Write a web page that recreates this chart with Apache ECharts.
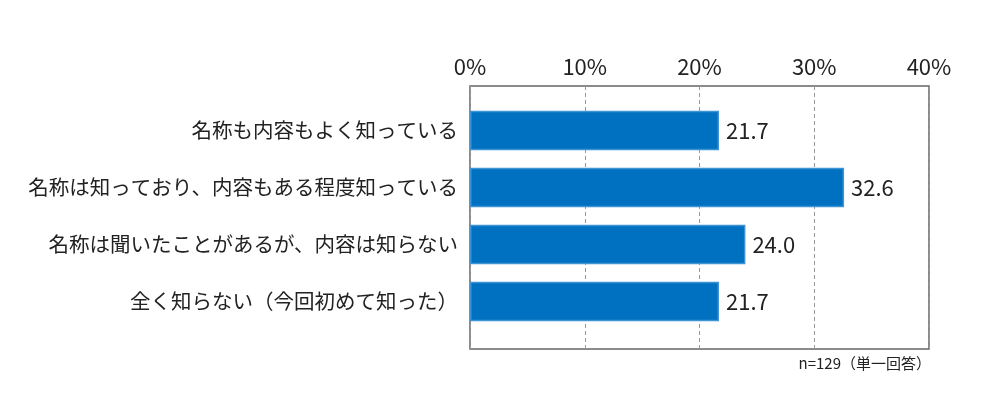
<!DOCTYPE html>
<html>
<head>
<meta charset="utf-8">
<script src="https://cdn.jsdelivr.net/npm/echarts@6/dist/echarts.min.js"></script>
<style>
html,body{margin:0;padding:0;background:#fff;}
#c{width:1000px;height:406px;}
</style>
</head>
<body>
<div id="c"></div>
<script>
const categories = [
  '名称も内容もよく知っている',
  '名称は知っており、内容もある程度知っている',
  '名称は聞いたことがあるが、内容は知らない',
  '全く知らない（今回初めて知った）'
];
const values = [21.7, 32.6, 24.0, 21.7];
const tickMax = 40;
const tickInterval = 10;
const noteText = 'n=129（単一回答）';

const FONT = '"Noto Sans CJK JP", "Noto Sans", sans-serif';
const chart = echarts.init(document.getElementById('c'));
chart.setOption({
  animation: false,
  backgroundColor: '#fff',
  textStyle: { fontFamily: FONT },
  title: {
    text: noteText,
    right: 69,
    top: 356,
    padding: 0,
    textStyle: { fontSize: 15, fontWeight: 'normal', color: '#222', fontFamily: FONT }
  },
  grid: [
    { left: 470, right: 71, top: 86, bottom: 57, show: true, borderColor: '#666', borderWidth: 1.5, backgroundColor: 'transparent' },
    { left: 470, right: 71, top: 102, bottom: 76 }
  ],
  xAxis: [
    {
      gridIndex: 0, type: 'value', min: 0, max: tickMax, interval: tickInterval, position: 'top',
      axisLine: { show: false }, axisTick: { show: false },
      axisLabel: { formatter: '{value}%', fontSize: 22, color: '#222', margin: 8, fontFamily: FONT },
      splitLine: { show: true, lineStyle: { type: [4, 3], color: '#999', width: 1 } }
    },
    {
      gridIndex: 1, type: 'value', min: 0, max: tickMax, interval: tickInterval,
      axisLine: { show: false }, axisTick: { show: false }, axisLabel: { show: false }, splitLine: { show: false }
    }
  ],
  yAxis: [
    { gridIndex: 0, type: 'value', show: false, splitLine: { show: false } },
    {
      gridIndex: 1, type: 'category', data: categories, inverse: true,
      axisLine: { show: false }, axisTick: { show: false },
      axisLabel: { fontSize: 20.5, color: '#222', margin: 12, fontFamily: FONT }
    }
  ],
  series: [{
    type: 'bar',
    xAxisIndex: 1, yAxisIndex: 1,
    data: values,
    barWidth: '69%',
    itemStyle: { color: '#0070C0', borderColor: '#3d93d3', borderWidth: 1.5 },
    label: {
      show: true, position: 'right', distance: 7,
      formatter: p => p.value.toFixed(1),
      fontSize: 22, color: '#222', fontFamily: FONT
    }
  }]
});
</script>
</body>
</html>
